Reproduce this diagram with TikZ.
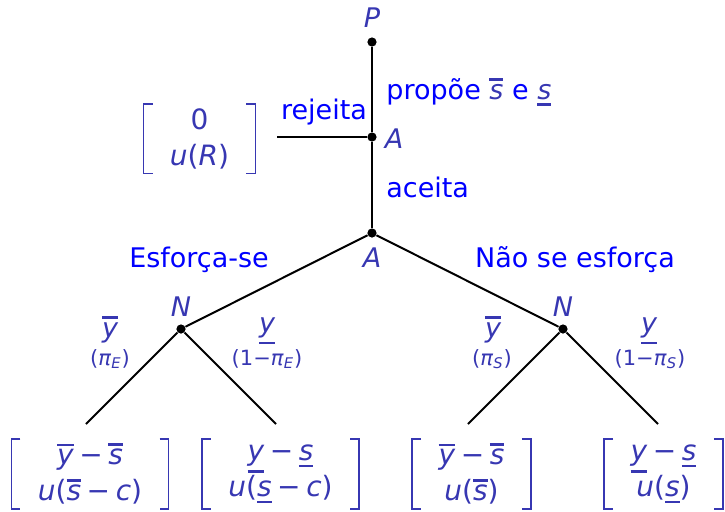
\documentclass[tikz,border=0pt]{standalone}
\usepackage{fontspec}
\setmainfont{DejaVu Sans}
\usepackage{tikz}
\definecolor{mathc}{RGB}{55,55,178}
\definecolor{labc}{RGB}{0,0,255}
% bars over and under a letter
\newcommand\ob[1]{\leavevmode{\color{mathc}\vbox{\hrule height 1.3pt\kern1.6pt\hbox{\itshape #1}}}}
\newcommand\ub[1]{\leavevmode{\color{mathc}\vtop{\hbox{\itshape #1}\kern2pt\hrule height 1.3pt}}}
\newcommand\mi{\hspace{0.2em}−\hspace{0.2em}}

\begin{document}
\begin{tikzpicture}[x=0.5pt,y=-0.5pt,font=\fontsize{13.5}{16}\selectfont,
  dot/.style={circle,fill,inner sep=0pt,minimum size=4.6pt},
  edge/.style={line width=1pt},
  lab/.style={text=labc,inner sep=0pt},
  var/.style={text=mathc,inner sep=0pt,font=\fontsize{13.5}{16}\selectfont\itshape},
  prob/.style={text=mathc,inner sep=0pt,font=\fontsize{10.5}{12}\selectfont},
  payoff/.style={text=mathc,align=center,inner xsep=13pt,inner ysep=0pt,
    minimum height=34.5pt,font=\fontsize{14}{18}\selectfont},
  brk/.style={mathc,line width=0.9pt}]
\useasboundingbox (0,0) rectangle (725,511);

% decision nodes
\node[dot] (p) at (372,42) {};
\node[dot] (a1) at (372,137) {};
\node[dot] (a2) at (372,233) {};
\node[dot] (ne) at (181,329) {};
\node[dot] (ns) at (563,329) {};
\coordinate (rej) at (277,137);
\coordinate (e1) at (86,424);
\coordinate (e2) at (276,424);
\coordinate (s1) at (468,424);
\coordinate (s2) at (658,424);

\draw[edge] (p) -- (a1) -- (a2);
\draw[edge] (rej) -- (a1);
\draw[edge] (a2) -- (ne);
\draw[edge] (a2) -- (ns);
\draw[edge] (e1) -- (ne) -- (e2);
\draw[edge] (s1) -- (ns) -- (s2);

% players
\node[var,anchor=base] (lp) at (372,27) {P};
\node[var,anchor=base] (la1) at (394,148) {A};
\node[var,anchor=base] (la2) at (372,267) {A};
\node[var,anchor=base] (lne) at (181,316) {N};
\node[var,anchor=base] (lns) at (563,316) {N};

% actions
\node[lab,anchor=base west] (lprop) at (386,99) {propõe \ob{s} e \ub{s}};
\node[lab,anchor=base] (lrej) at (324,119) {rejeita};
\node[lab,anchor=base west] (lacc) at (386,197) {aceita};
\node[lab,anchor=base] (lesf) at (199,267) {Esforça-se};
\node[lab,anchor=base] (lnao) at (575,267) {Não se esforça};

% nature's draws
\node[var,anchor=base] (yhe) at (110,337) {\ob{y}};
\node[var,anchor=base] (yle) at (267,332) {\ub{y}};
\node[var,anchor=base] (yhs) at (493,337) {\ob{y}};
\node[var,anchor=base] (yls) at (649,332) {\ub{y}};
\node[prob,anchor=base] (phe) at (110,365) {(\textit{π}\textsubscript{\itshape E})};
\node[prob,anchor=base] (ple) at (267,365) {(1−\textit{π}\textsubscript{\itshape E})};
\node[prob,anchor=base] (phs) at (492,365) {(\textit{π}\textsubscript{\itshape S})};
\node[prob,anchor=base] (pls) at (650,365) {(1−\textit{π}\textsubscript{\itshape S})};

% payoffs
\foreach \n/\x/\y/\ta/\tb in {
  vr/199.5/138.5/{0}/{\textit{u}(\textit{R})},
  ve1/90/474/{\ob{y}\mi\ob{s}}/{\textit{u}(\ob{s}\mi\textit{c})},
  ve2/280.5/474/{\ub{y}\mi\ub{s}}/{\textit{u}(\ub{s}\mi\textit{c})},
  vs1/471.5/474/{\ob{y}\mi\ob{s}}/{\textit{u}(\ob{s})},
  vs2/663.5/474/{\ub{y}\mi\ub{s}}/{\textit{u}(\ub{s})}} {
  \node[payoff] (\n) at (\x,\y) {\ta\\\tb};
  \draw[brk] ([xshift=4.5pt]\n.north west) -- (\n.north west) -- (\n.south west) -- ([xshift=4.5pt]\n.south west);
  \draw[brk] ([xshift=-4.5pt]\n.north east) -- (\n.north east) -- (\n.south east) -- ([xshift=-4.5pt]\n.south east);
}
\end{tikzpicture}
\end{document}
